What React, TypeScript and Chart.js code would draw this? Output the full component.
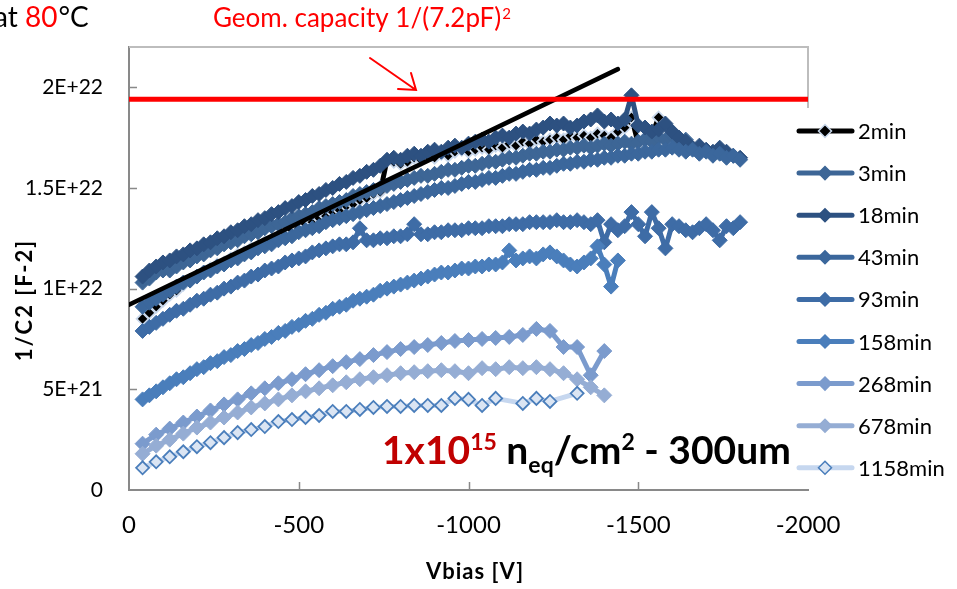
import React, { useEffect, useRef } from 'react';
import { Chart, registerables } from 'chart.js';

Chart.register(...registerables);

const W = 957;
const H = 589;
const FONT = 'Lato, "Noto Sans", sans-serif';

// ---------------- data (values in units of 1e21 F^-2) ----------------
const seriesNames = ['2min', '3min', '18min', '43min', '93min', '158min', '268min', '678min', '1158min'];

// bias voltage grids [V]
const vFine = [
  -40, -60, -80, -100, -120, -140, -160, -180, -200, -220,
  -240, -260, -280, -300, -320, -340, -360, -380, -400, -420,
  -440, -460, -480, -500, -520, -540, -560, -580, -600, -620,
  -640, -660, -680, -700, -720, -740, -760, -780, -800, -820,
  -840, -860, -880, -900, -920, -940, -960, -980, -1000, -1020,
  -1040, -1060, -1080, -1100, -1120, -1140, -1160, -1180, -1200, -1220,
  -1240, -1260, -1280, -1300, -1320, -1340, -1360, -1380, -1400, -1420,
  -1440, -1460, -1480, -1500, -1520, -1540, -1560, -1580, -1600, -1620,
  -1640, -1660, -1680, -1700, -1720, -1740, -1760, -1780, -1800,
];
const vCoarse = [
  -40, -80, -120, -160, -200, -240, -280, -320, -360, -400,
  -440, -480, -520, -560, -600, -640, -680, -720, -760, -800,
  -840, -880, -920, -960, -1000, -1040, -1080, -1120, -1160, -1200,
  -1240, -1280, -1320, -1360, -1400,
];
const v1158 = [
  -40, -80, -120, -160, -200, -240, -280, -320, -360, -400,
  -440, -480, -520, -560, -600, -640, -680, -720, -760, -800,
  -840, -880, -920, -960, -1000, -1040, -1080, -1160, -1200, -1240,
  -1320,
];

const c2min = [
  8.5, 8.8, 9.1, 9.4, 9.7, 9.9, 10.2, 10.4, 10.6, 10.8,
  11.0, 11.2, 11.3, 11.5, 11.7, 11.8, 12.0, 12.1, 12.3, 12.4,
  12.6, 12.7, 12.9, 13.0, 13.2, 13.3, 13.5, 13.6, 13.8, 13.9,
  14.1, 14.2, 14.4, 14.5, 14.7, 14.8, 16.4, 16.3, 16.2, 16.3,
  16.5, 16.4, 16.6, 16.5, 16.7, 16.6, 16.8, 16.9, 16.8, 16.9,
  17.0, 16.9, 17.1, 17.0, 17.2, 17.1, 17.3, 17.2, 17.4, 17.3,
  17.4, 17.5, 17.4, 17.6, 17.5, 17.6, 17.5, 17.7, 17.6, 17.5,
  17.8, 18.0, 18.5, 17.2, 17.5, 17.6, 18.5,
];
const c3min = [
  10.3, 10.5, 10.8, 10.9, 10.9, 11.1, 11.3, 11.4, 11.6, 11.7,
  11.9, 12.0, 12.2, 12.3, 12.4, 12.6, 12.7, 12.8, 13.0, 13.1,
  13.2, 13.3, 13.5, 13.6, 13.7, 13.8, 14.0, 14.1, 14.2, 14.3,
  14.4, 14.6, 14.7, 14.8, 14.9, 15.0, 15.1, 15.2, 15.3, 15.4,
  15.5, 15.6, 15.6, 15.7, 15.8, 15.9, 15.9, 16.0, 16.1, 16.1,
  16.2, 16.3, 16.3, 16.4, 16.5, 16.5, 16.6, 16.7, 16.7, 16.8,
  16.8, 16.9, 16.9, 17.0, 17.0, 17.1, 17.0, 17.1, 17.2, 17.1,
  17.2, 17.3, 17.2, 17.3, 17.4, 17.3, 17.5, 17.4, 17.6, 17.3,
  17.4,
];
const c18min = [
  10.6, 10.9, 11.1, 11.3, 11.4, 11.6, 11.7, 11.9, 12.0, 12.2,
  12.3, 12.5, 12.6, 12.8, 12.9, 13.1, 13.2, 13.4, 13.5, 13.7,
  13.8, 14.0, 14.1, 14.3, 14.4, 14.6, 14.7, 14.9, 15.0, 15.2,
  15.3, 15.5, 15.6, 15.8, 15.9, 16.1, 16.4, 16.5, 16.4, 16.6,
  16.7, 16.6, 16.8, 16.9, 16.8, 17.0, 17.1, 17.0, 17.2, 17.3,
  17.4, 17.3, 17.5, 17.6, 17.5, 17.7, 17.8, 17.7, 17.9, 18.0,
  18.2, 18.1, 18.2, 18.0, 18.1, 18.3, 18.4, 18.6, 18.3, 18.4,
  18.2, 18.4, 19.6, 18.1, 18.0, 17.8, 17.9, 18.2, 17.8, 17.5,
  17.3, 17.0, 17.1, 16.9, 16.8, 17.0, 16.8, 16.6, 16.5,
];
const c43min = [
  9.1, 9.3, 9.5, 9.7, 9.9, 10.1, 10.3, 10.4, 10.6, 10.8,
  10.9, 11.1, 11.2, 11.4, 11.5, 11.7, 11.8, 12.0, 12.1, 12.2,
  12.4, 12.5, 12.6, 12.8, 12.9, 13.0, 13.1, 13.3, 13.4, 13.5,
  13.6, 13.7, 13.8, 13.9, 14.0, 14.1, 14.2, 14.3, 14.4, 14.5,
  14.6, 14.7, 14.8, 14.9, 15.0, 15.0, 15.1, 15.2, 15.3, 15.3,
  15.4, 15.5, 15.5, 15.6, 15.7, 15.7, 15.8, 15.9, 15.9, 16.0,
  16.0, 16.1, 16.2, 16.2, 16.3, 16.3, 16.4, 16.4, 16.5, 16.5,
  16.6, 16.6, 16.7, 16.7, 16.8, 16.8, 16.9, 16.9, 17.0, 16.9,
  16.8, 16.9, 16.7, 16.8, 16.6, 16.7, 16.5, 16.6, 16.4,
];
const c93min = [
  7.9, 8.1, 8.3, 8.5, 8.7, 8.9, 9.0, 9.2, 9.4, 9.5,
  9.7, 9.8, 10.0, 10.1, 10.3, 10.4, 10.6, 10.7, 10.9, 11.0,
  11.1, 11.3, 11.4, 11.5, 11.6, 11.8, 11.9, 12.0, 12.1, 12.2,
  12.2, 12.3, 13.0, 12.4, 12.4, 12.5, 12.5, 12.6, 12.6, 12.7,
  13.2, 12.7, 12.7, 12.8, 12.8, 12.9, 12.9, 12.9, 13.0, 13.0,
  13.0, 13.1, 13.1, 13.1, 13.2, 13.2, 13.2, 13.3, 13.3, 13.3,
  13.3, 13.4, 13.3, 13.3, 13.4, 13.3, 13.2, 13.4, 12.3, 13.2,
  12.9, 13.1, 13.8, 13.2, 12.6, 13.8, 13.0, 12.0, 13.2, 13.1,
  12.9, 12.8, 13.0, 13.2, 12.9, 12.4, 13.1, 13.0, 13.3,
];
const c158min = [
  4.5, 4.7, 4.9, 5.1, 5.3, 5.5, 5.6, 5.8, 6.0, 6.1,
  6.3, 6.4, 6.6, 6.7, 6.9, 7.0, 7.2, 7.3, 7.5, 7.6,
  7.8, 7.9, 8.1, 8.2, 8.4, 8.5, 8.7, 8.8, 9.0, 9.1,
  9.2, 9.4, 9.5, 9.6, 9.7, 9.9, 10.0, 10.1, 10.2, 10.3,
  10.4, 10.5, 10.6, 10.7, 10.8, 10.8, 10.9, 11.0, 11.0, 11.1,
  11.1, 11.2, 11.2, 11.3, 11.9, 11.4, 11.5, 11.6, 11.5, 11.7,
  11.8, 11.6, 11.4, 11.2, 11.1, 11.3, 11.5, 12.1, 11.2, 10.1,
  11.4,
];
const c268min = [
  2.3, 2.75, 3.05, 3.35, 3.65, 3.95, 4.25, 4.5, 4.8, 5.05,
  5.3, 5.5, 5.75, 5.95, 6.15, 6.35, 6.5, 6.7, 6.85, 7.0,
  7.1, 7.2, 7.3, 7.4, 7.45, 7.5, 7.55, 7.6, 7.7, 8.0,
  7.9, 7.1, 7.1, 5.7, 6.9,
];
const c678min = [
  1.8, 2.2, 2.5, 2.8, 3.1, 3.35, 3.6, 3.85, 4.1, 4.3,
  4.5, 4.7, 4.9, 5.05, 5.2, 5.35, 5.5, 5.6, 5.7, 5.8,
  5.85, 5.9, 5.95, 5.9, 5.8, 6.05, 6.0, 6.1, 6.05, 6.1,
  6.0, 5.8, 5.5, 5.1, 4.7,
];
const c1158min = [
  1.1, 1.4, 1.65, 1.9, 2.15, 2.35, 2.6, 2.85, 3.0, 3.15,
  3.4, 3.5, 3.6, 3.7, 3.9, 3.9, 4.0, 4.1, 4.15, 4.15,
  4.2, 4.2, 4.2, 4.55, 4.5, 4.2, 4.55, 4.3, 4.55, 4.4,
  4.8,
];

// linear fit (black) and geometric capacitance level (red)
const fitV = [0, -1440];
const fitC = [9.2, 20.9];
const geomV = [0, -2000];
const geomC = [19.4, 19.4];

const yTicks = [0, 5e21, 1e22, 1.5e22, 2e22];
const xTicks = [0, -500, -1000, -1500, -2000];

// ---------------- styles ----------------
const seriesVolts = [vFine, vFine, vFine, vFine, vFine, vFine, vCoarse, vCoarse, v1158];
const seriesVals = [c2min, c3min, c18min, c43min, c93min, c158min, c268min, c678min, c1158min];
const lineColors = ['#000000', '#3d6696', '#2d5181', '#3b679c', '#3e6ca6', '#4a7ebb', '#7b9bcd', '#95add4', '#c6d7ef'];
const markerFill = ['#000000', '#3d6696', '#2d5181', '#3b679c', '#3e6ca6', '#4a7ebb', '#7b9bcd', '#95add4', '#dbe5f3'];
const markerBorder = ['#c9d8ec', '#3d6696', '#2d5181', '#3b679c', '#3e6ca6', '#4a7ebb', '#7b9bcd', '#95add4', '#4a7ebb'];
const markerRadius = [6, 7.5, 7.5, 7.5, 7.5, 7.5, 7.5, 7.5, 6.5];

const toPts = (vs: number[], cs: number[]) => cs.map((c, i) => ({ x: vs[i], y: c * 1e21 }));

function diamond(ctx: CanvasRenderingContext2D, x: number, y: number, r: number) {
  ctx.beginPath();
  ctx.moveTo(x - r, y);
  ctx.lineTo(x, y - r);
  ctx.lineTo(x + r, y);
  ctx.lineTo(x, y + r);
  ctx.closePath();
}

const overlay = {
  id: 'overlay',
  beforeDatasetsDraw(chart: any) {
    const ctx: CanvasRenderingContext2D = chart.ctx;
    const a = chart.chartArea;
    const xs = chart.scales.x;
    const ys = chart.scales.y;
    ctx.save();
    // plot frame (top & right)
    ctx.strokeStyle = '#bdbdbd';
    ctx.lineWidth = 2;
    ctx.beginPath();
    ctx.moveTo(a.left, a.top);
    ctx.lineTo(a.right, a.top);
    ctx.lineTo(a.right, 108);
    ctx.stroke();
    // inward tick marks
    ctx.strokeStyle = '#898989';
    ctx.lineWidth = 1.5;
    ctx.beginPath();
    yTicks.slice(1).forEach((v) => {
      const py = Math.round(ys.getPixelForValue(v)) + 0.5;
      ctx.moveTo(a.left, py);
      ctx.lineTo(a.left + 8, py);
    });
    xTicks.slice(1, 4).forEach((v) => {
      const px = Math.round(xs.getPixelForValue(v)) + 0.5;
      ctx.moveTo(px, a.bottom);
      ctx.lineTo(px, a.bottom - 8);
    });
    ctx.stroke();
    ctx.restore();
  },
  afterDraw(chart: any) {
    const ctx: CanvasRenderingContext2D = chart.ctx;
    ctx.save();
    ctx.textBaseline = 'alphabetic';
    ctx.textAlign = 'left';

    // "at 80°C" (cut at the left edge)
    ctx.font = `28px ${FONT}`;
    ctx.fillStyle = '#000';
    ctx.textAlign = 'right';
    ctx.fillText('at ', 25, 27);
    ctx.textAlign = 'left';
    ctx.fillStyle = '#ff0000';
    ctx.fillText('80', 25, 27);
    const w80 = ctx.measureText('80').width;
    ctx.fillStyle = '#000';
    ctx.fillText('°C', 25 + w80 + 1, 27);

    // Geom. capacity label
    ctx.fillStyle = '#ff0000';
    ctx.font = `26px ${FONT}`;
    const gTxt = 'Geom. capacity 1/(7.2pF)';
    ctx.fillText(gTxt, 213, 27);
    const gw = ctx.measureText(gTxt).width;
    ctx.font = `15px ${FONT}`;
    ctx.fillText('2', 213 + gw + 1, 19);

    // arrow
    ctx.strokeStyle = '#ff0000';
    ctx.lineWidth = 2;
    ctx.lineCap = 'round';
    ctx.beginPath();
    ctx.moveTo(370, 58);
    ctx.lineTo(416, 90);
    ctx.moveTo(398, 89);
    ctx.lineTo(416, 90);
    ctx.lineTo(411, 73);
    ctx.stroke();

    // fluence annotation
    let x = 382;
    const base = 464;
    const big = `bold 39px ${FONT}`;
    const sup = `bold 23px ${FONT}`;
    const part = (t: string, font: string, color: string, dy: number) => {
      ctx.font = font;
      ctx.fillStyle = color;
      ctx.fillText(t, x, base + dy);
      x += ctx.measureText(t).width;
    };
    part('1x10', big, '#c00000', 0);
    part('15', sup, '#c00000', -14);
    part(' n', big, '#000', 0);
    part('eq', sup, '#000', 9);
    part('/cm', big, '#000', 0);
    part('2', sup, '#000', -14);
    part(' - 300um', big, '#000', 0);

    // axis titles
    ctx.fillStyle = '#000';
    ctx.font = `bold 22px ${FONT}`;
    ctx.textAlign = 'center';
    ctx.textBaseline = 'middle';
    (ctx as any).letterSpacing = '1px';
    ctx.fillText('Vbias [V]', 475, 572);
    (ctx as any).letterSpacing = '2px';
    ctx.save();
    ctx.translate(25, 300);
    ctx.rotate(-Math.PI / 2);
    ctx.fillText('1/C2 [F-2]', 0, 0);
    ctx.restore();
    (ctx as any).letterSpacing = '0px';

    // legend
    ctx.textAlign = 'left';
    ctx.textBaseline = 'middle';
    ctx.font = `22px ${FONT}`;
    seriesNames.forEach((name, i) => {
      const y = 131 + 42.1 * i;
      ctx.strokeStyle = lineColors[i];
      ctx.lineWidth = 5;
      ctx.lineCap = 'round';
      ctx.beginPath();
      ctx.moveTo(799, y);
      ctx.lineTo(852, y);
      ctx.stroke();
      diamond(ctx, 825, y, 6.5);
      ctx.fillStyle = markerFill[i];
      ctx.fill();
      ctx.strokeStyle = markerBorder[i];
      ctx.lineWidth = 1.5;
      ctx.stroke();
      ctx.fillStyle = '#000';
      ctx.fillText(name, 858, y + 1);
    });
    ctx.restore();
  },
};

export default function App() {
  const ref = useRef<HTMLCanvasElement | null>(null);
  useEffect(() => {
    if (!ref.current) return;
    Chart.defaults.font.family = FONT;
    Chart.defaults.color = '#000';
    const datasets: any[] = seriesNames.map((name, i) => ({
      label: name,
      data: toPts(seriesVolts[i], seriesVals[i]),
      showLine: true,
      borderColor: lineColors[i],
      borderWidth: 5,
      borderJoinStyle: 'round',
      borderCapStyle: 'round',
      pointStyle: 'rectRot',
      pointRadius: markerRadius[i],
      pointBackgroundColor: markerFill[i],
      pointBorderColor: markerBorder[i],
      pointBorderWidth: i === 0 || i === 8 ? 1.8 : 1,
      order: 100 - i,
    }));
    datasets.push({
      label: 'fit',
      data: toPts(fitV, fitC),
      showLine: true,
      borderColor: '#000',
      borderWidth: 4.5,
      borderCapStyle: 'round',
      pointRadius: 0,
      order: 1,
    });
    datasets.push({
      label: 'geom',
      data: toPts(geomV, geomC),
      showLine: true,
      borderColor: '#ff0000',
      borderWidth: 5,
      pointRadius: 0,
      order: 0,
    });
    const chart = new Chart(ref.current, {
      type: 'scatter',
      data: { datasets },
      plugins: [overlay],
      options: {
        responsive: false,
        devicePixelRatio: 1,
        animation: false,
        layout: { padding: { left: 0, top: 47, right: W - 808, bottom: 0 } },
        plugins: { legend: { display: false }, tooltip: { enabled: false } },
        scales: {
          x: {
            type: 'linear',
            min: -2000,
            max: 0,
            reverse: true,
            afterFit: (s: any) => { s.height = H - 490; },
            afterBuildTicks: (s: any) => { s.ticks = xTicks.map((v) => ({ value: v })); },
            ticks: {
              callback: (v: any) => String(v),
              font: { size: 24, family: FONT },
              color: '#000',
              padding: 21,
              maxRotation: 0,
            },
            grid: { display: false, drawTicks: false },
            border: { display: true, color: '#898989', width: 2 },
          },
          y: {
            type: 'linear',
            min: 0,
            max: 2.2e22,
            afterFit: (s: any) => { s.width = 129; },
            afterBuildTicks: (s: any) => { s.ticks = yTicks.map((v) => ({ value: v })); },
            ticks: {
              callback: (v: any) => (v === 0 ? '0' : Number(v).toExponential().replace('e', 'E')),
              font: { size: 21, family: FONT },
              color: '#000',
              padding: 26,
            },
            grid: { display: false, drawTicks: false },
            border: { display: true, color: '#898989', width: 2 },
          },
        },
      } as any,
    });
    return () => chart.destroy();
  }, []);
  return (
    <div style={{ position: 'absolute', left: 0, top: 0, width: W, height: H, background: '#fff' }}>
      <canvas ref={ref} width={W} height={H} style={{ display: 'block' }} />
    </div>
  );
}
